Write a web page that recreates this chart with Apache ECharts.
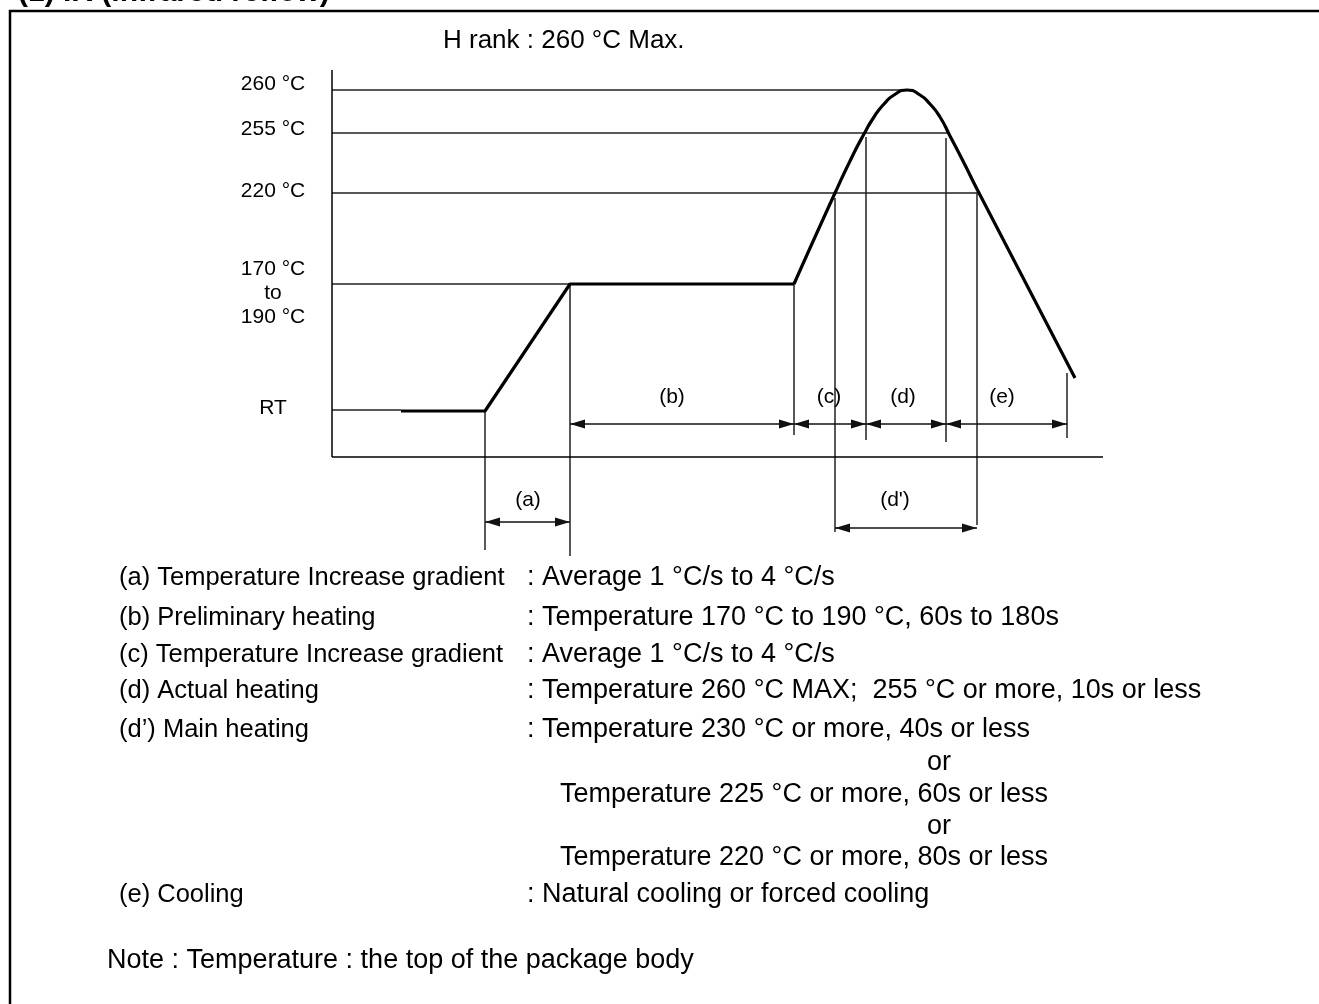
<!DOCTYPE html>
<html><head><meta charset="utf-8">
<script src="https://cdn.jsdelivr.net/npm/echarts@6/dist/echarts.min.js"></script>
<style>html,body{margin:0;padding:0;background:#fff}#c{width:1319px;height:1004px}</style>
</head><body><div id="c"></div>
<script>
// Schematic units: x = time (diagram units), y = temperature level (diagram units)
const levelValues = [49, 164, 266, 328, 373];
const levelLabels = ['RT', '170 °C\nto\n190 °C', '220 °C', '255 °C', '260 °C'];
const axisX = [[0, 0], [771, 0]];
const axisY = [[0, 0], [0, 387]];
const profileSoak = [[69, 46], [153, 46], [238, 173], [462, 173]];
const profileReflow = [[462, 173], [503, 264], [520, 300], [532, 323], [542, 340], [552, 353], [562, 362], [575, 367], [588, 362], [598, 353], [608, 340], [618, 321], [631, 296], [646, 266], [743, 79]];
const guideLines = [
  [[0, 47], [69, 47]],
  [[0, 173], [238, 173]],
  [[0, 264], [645, 264], [645, -68]],
  [[0, 324], [616, 324]],
  [[0, 367], [575, 367]],
  [[153, 46], [153, -93]],
  [[238, 173], [238, -99]],
  [[462, 173], [462, 22]],
  [[503, 259], [503, -75]],
  [[534, 320], [534, 17]],
  [[614, 319], [614, 15]],
  [[735, 84], [735, 19]]
];
const dimSpans = [[238, 462, 33], [462, 534, 33], [534, 614, 33], [614, 735, 33], [153, 238, -65], [503, 645, -71]];
const dimLabels = [['(b)', 340, 60], ['(c)', 497, 60], ['(d)', 571, 60], ['(e)', 670, 60], ['(a)', 196, -43], ["(d')", 563, -43]];

const titleText = '(1) IR (infrared reflow)';
const rankText = 'H rank : 260 °C Max.';
const legendLeft = ['(a) Temperature Increase gradient', '(b) Preliminary heating', '(c) Temperature Increase gradient', '(d) Actual heating', '(d’) Main heating', '(e) Cooling'];
const legendLeftRows = [0, 1, 2, 3, 4, 9];
const legendRight = [': Average 1 °C/s to 4 °C/s', ': Temperature 170 °C to 190 °C, 60s to 180s', ': Average 1 °C/s to 4 °C/s', ': Temperature 260 °C MAX;  255 °C or more, 10s or less', ': Temperature 230 °C or more, 40s or less', 'or', 'Temperature 225 °C or more, 60s or less', 'or', 'Temperature 220 °C or more, 80s or less', ': Natural cooling or forced cooling'];
const rowY = [578, 618, 655, 691, 730, 763, 795, 827, 858, 895];
const noteText = 'Note : Temperature : the top of the package body';

const FONT = "'Liberation Sans', Arial, sans-serif";
const LEG_L = '25.5px ' + FONT;
const LEG_R = '27px ' + FONT;

const graphics = [
  { type: 'rect', shape: { x: 10, y: 11, width: 1400, height: 1100 }, style: { fill: 'none', stroke: '#000', lineWidth: 2.5 } },
  { type: 'text', x: 18, y: 8, style: { text: titleText, font: 'bold 30px ' + FONT, fill: '#000', verticalAlign: 'bottom', align: 'left' } },
  { type: 'text', x: 443, y: 41, style: { text: rankText, font: '26px ' + FONT, fill: '#000', verticalAlign: 'middle', align: 'left' } },
  { type: 'text', x: 107, y: 961, style: { text: noteText, font: LEG_R, fill: '#000', verticalAlign: 'middle', align: 'left' } }
];
legendLeft.forEach((t, i) => {
  graphics.push({ type: 'text', x: 119, y: rowY[legendLeftRows[i]], style: { text: t, font: LEG_L, fill: '#000', verticalAlign: 'middle', align: 'left' } });
});
legendRight.forEach((t, i) => {
  let x = 527, align = 'left';
  if (t === 'or') { x = 939; align = 'center'; }
  else if (t.charAt(0) !== ':') { x = 560; }
  graphics.push({ type: 'text', x: x, y: rowY[i], style: { text: t, font: LEG_R, fill: '#000', verticalAlign: 'middle', align: align } });
});

const chart = echarts.init(document.getElementById('c'), null, { renderer: 'canvas' });
chart.setOption({
  animation: false,
  backgroundColor: '#fff',
  grid: { left: 232, right: 216, top: 70, bottom: 447, containLabel: false },
  xAxis: { type: 'value', min: -100, max: 771, show: false },
  yAxis: {
    type: 'value', min: -100, max: 387, offset: -100,
    axisLine: { show: false, onZero: false }, axisTick: { show: false }, splitLine: { show: false },
    axisLabel: {
      show: true, customValues: levelValues, align: 'center', margin: 59,
      fontFamily: FONT, fontSize: 21, color: '#000', lineHeight: 24,
      formatter: v => levelLabels[levelValues.indexOf(v)] || ''
    }
  },
  graphic: graphics,
  series: [
    {
      type: 'lines', coordinateSystem: 'cartesian2d', polyline: true, silent: true,
      lineStyle: { color: '#222', width: 1.5, opacity: 1 },
      data: guideLines.map(c => ({ coords: c }))
    },
    {
      type: 'lines', coordinateSystem: 'cartesian2d', polyline: true, silent: true,
      lineStyle: { color: '#000', width: 1.5, opacity: 1 },
      data: [{ coords: axisX }, { coords: axisY }]
    },
    {
      type: 'line', data: profileSoak, showSymbol: false, symbol: 'none', silent: true,
      lineStyle: { color: '#000', width: 3.2, join: 'round' }
    },
    {
      type: 'line', data: profileReflow, showSymbol: false, symbol: 'none', smooth: 0.6, silent: true,
      lineStyle: { color: '#000', width: 3.2 }
    },
    {
      type: 'line', data: [], silent: true,
      markLine: {
        silent: true, animation: false,
        symbol: ['triangle', 'triangle'], symbolSize: [9, 15], symbolOffset: [[0, '50%'], [0, '50%']],
        label: { show: false },
        lineStyle: { color: '#111', width: 1.5, type: 'solid', opacity: 1 },
        itemStyle: { color: '#000' },
        emphasis: { disabled: true },
        data: dimSpans.map(s => [{ coord: [s[0], s[2]] }, { coord: [s[1], s[2]] }])
      }
    },
    {
      type: 'scatter', symbolSize: 0, silent: true, itemStyle: { opacity: 1 },
      data: dimLabels.map(d => ({ value: [d[1], d[2]], label: { formatter: d[0] } })),
      label: { show: true, position: 'inside', fontFamily: FONT, fontSize: 21, color: '#000', opacity: 1 }
    }
  ]
});
</script></body></html>
